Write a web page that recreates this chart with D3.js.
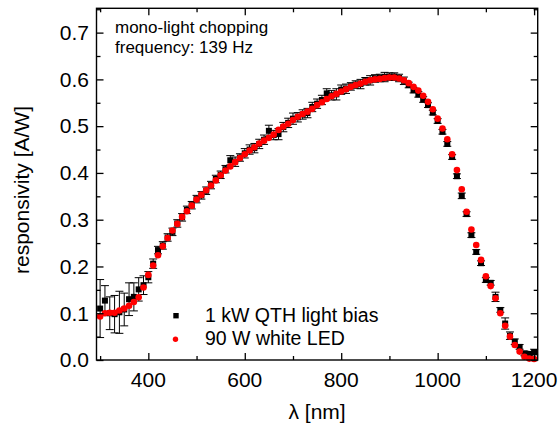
<!DOCTYPE html>
<html><head><meta charset="utf-8">
<script src="https://cdn.jsdelivr.net/npm/d3@7"></script>
<style>
html,body{margin:0;padding:0;background:#fff;}
svg text{font-family:"Liberation Sans",Arial,sans-serif;fill:#000;}
</style></head>
<body>
<svg id="c" width="559" height="424"></svg>
<script>
// Data
const wavelength = d3.range(300, 1201, 10); // 300..1200 nm, 10 nm steps (91 points)
const ledValues = [
0.093,0.100,0.101,0.101,0.106,0.110,0.116,0.124,0.134,0.155,
0.182,0.202,0.224,0.243,0.261,0.277,0.291,0.306,0.318,0.330,
0.343,0.353,0.363,0.373,0.384,0.395,0.405,0.414,0.423,0.432,
0.440,0.448,0.455,0.463,0.469,0.475,0.482,0.492,0.499,0.505,
0.513,0.520,0.526,0.531,0.537,0.545,0.551,0.558,0.564,0.569,
0.574,0.579,0.584,0.588,0.591,0.595,0.598,0.600,0.601,0.603,
0.604,0.604,0.602,0.598,0.592,0.584,0.576,0.565,0.552,0.536,
0.516,0.495,0.472,0.440,0.406,0.365,0.317,0.279,0.246,0.214,
0.179,0.158,0.132,0.100,0.073,0.050,0.032,0.018,0.007,0.003,
0.002];
const qthValues = [
0.110,0.127,0.100,0.098,0.102,0.108,0.130,0.135,0.151,0.160,
0.177,0.206,0.235,0.245,0.262,0.274,0.292,0.305,0.321,0.331,
0.344,0.352,0.362,0.374,0.387,0.396,0.408,0.427,0.424,0.433,
0.442,0.450,0.453,0.462,0.471,0.490,0.481,0.483,0.498,0.507,
0.516,0.519,0.525,0.528,0.541,0.548,0.556,0.570,0.566,0.568,
0.578,0.580,0.585,0.589,0.590,0.596,0.598,0.602,0.603,0.605,
0.606,0.606,0.603,0.597,0.588,0.577,0.568,0.557,0.545,0.529,
0.511,0.488,0.462,0.434,0.393,0.351,0.312,0.267,0.231,0.207,
0.171,0.165,0.135,0.107,0.078,0.052,0.039,0.028,0.014,0.013,
0.017];
const qthErrors = [
0.062,0.032,0.035,0.040,0.045,0.035,0.035,0.030,0.025,0.020,
0.012,0.010,0.008,0.008,0.008,0.008,0.008,0.008,0.008,0.008,
0.008,0.008,0.008,0.008,0.008,0.008,0.008,0.010,0.010,0.008,
0.010,0.010,0.010,0.010,0.010,0.012,0.010,0.012,0.010,0.010,
0.012,0.010,0.010,0.010,0.010,0.010,0.010,0.010,0.010,0.012,
0.010,0.010,0.008,0.008,0.010,0.008,0.010,0.008,0.008,0.010,
0.008,0.008,0.008,0.008,0.006,0.006,0.006,0.006,0.005,0.005,
0.005,0.005,0.005,0.005,0.005,0.006,0.005,0.005,0.005,0.005,
0.005,0.005,0.010,0.005,0.012,0.008,0.006,0.005,0.005,0.004,
0.006];
const xTicks = [400, 600, 800, 1000, 1200];
const xMinorTicks = [300, 500, 700, 900, 1100];
const yTicks = [0.0, 0.1, 0.2, 0.3, 0.4, 0.5, 0.6, 0.7];
const yMinorTicks = [0.05, 0.15, 0.25, 0.35, 0.45, 0.55, 0.65, 0.75];
const seriesNames = ["1 kW QTH light bias", "90 W white LED"];
const noteLines = ["mono-light chopping", "frequency: 139 Hz"];
const xTitle = "λ [nm]";
const yTitle = "responsivity [A/W]";

const L = 96.5, R = 537.7, T = 8.3, B = 360;
const x = d3.scaleLinear().domain([292.5, 1207.5]).range([L, R]);
const y = d3.scaleLinear().domain([0, 0.752]).range([B, T]);

const svg = d3.select("#c");
const font = '"Liberation Sans",Arial,sans-serif';

// data
const qth = wavelength.map((w, i) => ({w, v: qthValues[i], e: qthErrors[i]}));
const led = wavelength.map((w, i) => ({w, v: ledValues[i]}));

const plot = svg.append("g");
const eb = plot.append("g").attr("stroke", "#000").attr("stroke-width", 1).attr("fill", "none");
qth.forEach(d => {
  const cx = x(d.w), y1 = y(d.v + d.e), y2 = y(d.v - d.e);
  eb.append("line").attr("x1", cx).attr("x2", cx).attr("y1", y1).attr("y2", y2);
  eb.append("line").attr("x1", cx - 4).attr("x2", cx + 4).attr("y1", y1).attr("y2", y1);
  eb.append("line").attr("x1", cx - 4).attr("x2", cx + 4).attr("y1", y2).attr("y2", y2);
});
plot.append("g").selectAll("rect").data(qth).join("rect")
  .attr("x", d => x(d.w) - 3).attr("y", d => y(d.v) - 3)
  .attr("width", 6).attr("height", 6).attr("fill", "#000");
plot.append("g").selectAll("circle").data(led).join("circle")
  .attr("cx", d => x(d.w)).attr("cy", d => y(d.v)).attr("r", 3.3).attr("fill", "#ff0000");

// axes (ticks inward, mirrored)
function addAxis(axisGen, tr, major) {
  const g = svg.append("g").attr("transform", tr).call(axisGen);
  g.select(".domain").remove();
  g.selectAll(".tick line").attr("stroke", "#000").attr("stroke-width", 1.3);
  g.selectAll(".tick text").remove();
  return g;
}
addAxis(d3.axisBottom(x).tickValues(xTicks).tickSize(-7), `translate(0,${B})`);
addAxis(d3.axisBottom(x).tickValues(xMinorTicks).tickSize(-4), `translate(0,${B})`);
addAxis(d3.axisTop(x).tickValues(xTicks).tickSize(-7), `translate(0,${T})`);
addAxis(d3.axisTop(x).tickValues(xMinorTicks).tickSize(-4), `translate(0,${T})`);
addAxis(d3.axisLeft(y).tickValues(yTicks).tickSize(-7), `translate(${L},0)`);
addAxis(d3.axisLeft(y).tickValues(yMinorTicks).tickSize(-4), `translate(${L},0)`);
addAxis(d3.axisRight(y).tickValues(yTicks).tickSize(-7), `translate(${R},0)`);
addAxis(d3.axisRight(y).tickValues(yMinorTicks).tickSize(-4), `translate(${R},0)`);

svg.append("rect").attr("x", L).attr("y", T).attr("width", R - L).attr("height", B - T)
  .attr("fill", "none").attr("stroke", "#000").attr("stroke-width", 1.4);

// tick labels
svg.append("g").selectAll("text").data(xTicks).join("text")
  .attr("x", d => x(d)).attr("y", B + 26.5).attr("text-anchor", "middle")
  .style("font-size", "21px").text(d => d);
svg.append("g").selectAll("text").data(yTicks).join("text")
  .attr("x", 89).attr("y", d => y(d) + 7.3).attr("text-anchor", "end")
  .style("font-size", "21px").text(d => d.toFixed(1));

// axis titles
svg.append("text").attr("x", (L + R) / 2).attr("y", 419).attr("text-anchor", "middle")
  .style("font-size", "21px").text(xTitle);
svg.append("text").attr("transform", `translate(29,190) rotate(-90)`).attr("text-anchor", "middle")
  .style("font-size", "21px").text(yTitle);

// annotation
svg.append("g").selectAll("text").data(noteLines).join("text")
  .attr("x", 115).attr("y", (d, i) => 33.3 + i * 19.5)
  .style("font-size", "17px").text(d => d);

// legend
const lg = svg.append("g");
lg.append("rect").attr("x", 176 - 2.7).attr("y", 315.7 - 2.7).attr("width", 5.4).attr("height", 5.4).attr("fill", "#000");
lg.append("circle").attr("cx", 175.5).attr("cy", 339.3).attr("r", 2.7).attr("fill", "#ff0000");
lg.selectAll("text").data(seriesNames).join("text")
  .attr("x", 205).attr("y", (d, i) => 321.8 + i * 23.5)
  .style("font-size", "19.5px").text(d => d);
</script>
</body></html>
